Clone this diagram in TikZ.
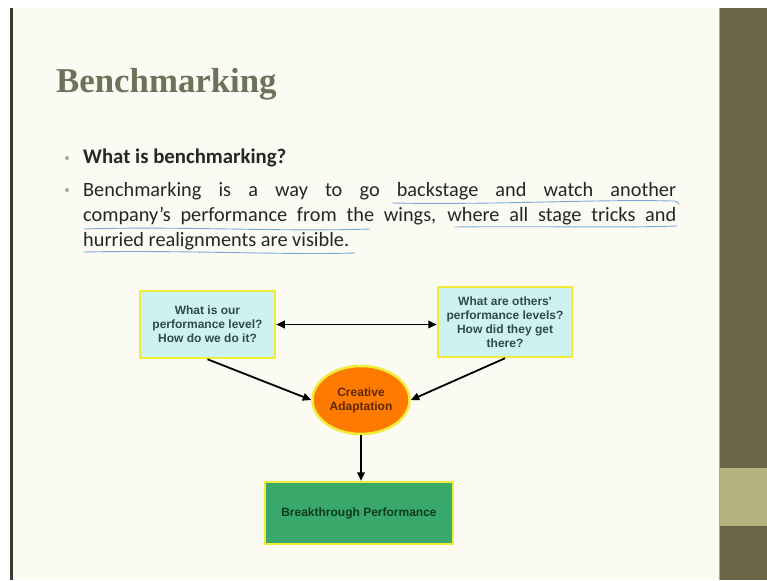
\documentclass[tikz,border=0pt]{standalone}
\usepackage{fontspec}
\setmainfont{Carlito}
\newfontfamily\titlefont{Liberation Serif}
\newfontfamily\diagfont{Liberation Sans}
\usetikzlibrary{shapes.geometric,arrows.meta}
\definecolor{slidebg}{HTML}{FBFBF4}
\definecolor{edgeline}{HTML}{3A3A32}
\definecolor{panel}{HTML}{6B6447}
\definecolor{band}{HTML}{B4B47E}
\definecolor{titlecol}{HTML}{6B735A}
\definecolor{bodytext}{HTML}{262626}
\definecolor{bulletcol}{HTML}{A8A8A0}
\definecolor{inkblue}{HTML}{7FA6D6}
\definecolor{boxfill}{HTML}{CDF2EF}
\definecolor{boxborder}{HTML}{F0EC3A}
\definecolor{boxtext}{HTML}{2F4A4A}
\definecolor{orangefill}{HTML}{FF7A00}
\definecolor{orangetext}{HTML}{5C2A00}
\definecolor{greenfill}{HTML}{38A96B}
\definecolor{greentext}{HTML}{0E3B1E}
\tikzset{
  bodyline/.style={anchor=base west, inner sep=0pt, text=bodytext, font=\fontsize{20.3}{25}\selectfont},
  diagbox/.style={draw=boxborder, line width=2.5pt, align=center, inner sep=0pt,
    font=\diagfont\bfseries\fontsize{12}{14}\selectfont},
  qbox/.style={diagbox, fill=boxfill, text=boxtext},
  tip/.style={Triangle[length=8.5pt,width=7.5pt]},
  conn/.style={line width=1.8pt, draw=black, -{Triangle[length=8.5pt,width=7.5pt]}},
  ink/.style={draw=inkblue, line width=0.9pt, line cap=round}
}
\begin{document}
\begin{tikzpicture}[x=1pt,y=-1pt]
\useasboundingbox (0,0) rectangle (767,580);
\fill[white] (0,0) rectangle (767,580);
\fill[slidebg] (11,8) rectangle (719,580);
\fill[edgeline] (10,8) rectangle (12.5,580);
\fill[panel] (719,8) rectangle (767,580);
\fill[band] (719,468) rectangle (767,526);
\draw[gray!70, line width=1pt] (719.5,8) -- (719.5,580);

% title
\node[anchor=base west, inner sep=0pt, text=titlecol,
  font=\titlefont\bfseries\fontsize{34.8}{40}\selectfont] (title) at (56,93) {Benchmarking};

% bullets
\fill[bulletcol] (67,158) circle (2);
\fill[bulletcol] (67,190) circle (2);
\node[bodyline, font=\bfseries\fontsize{20.8}{25}\selectfont] (q) at (83,164) {What is benchmarking?};
\node[bodyline] (l1) at (83,196) {\makebox[593pt][s]{Benchmarking is a way to go backstage and watch another}};
\node[bodyline] (l2) at (83,221) {\makebox[593pt][s]{company’s performance from the wings, where all stage tricks and}};
\node[bodyline] (l3) at (83,246) {hurried realignments are visible.};

% hand-drawn underlines
\draw[ink] (392,203) .. controls (500,205) and (600,199) .. (672,201) .. controls (676,201) .. (679,204);
\draw[ink] (84,229) .. controls (180,226) and (280,232) .. (370,229);
\draw[ink] (455,227) .. controls (540,226) and (620,228) .. (677,226);
\draw[ink] (84,252) .. controls (180,250) and (280,255) .. (355,253);

% diagram
\node[qbox, minimum width=135pt, minimum height=67pt] (A) at (207.5,324.5)
  {What is our\\performance level?\\How do we do it?};
\node[qbox, minimum width=134pt, minimum height=70pt] (B) at (505,322)
  {What are others'\\performance levels?\\How did they get\\there?};
\node[diagbox, ellipse, fill=orangefill, text=orangetext, minimum width=97pt, minimum height=68pt] (E) at (361,400)
  {Creative\\Adaptation};
\node[diagbox, fill=greenfill, text=greentext, minimum width=188pt, minimum height=62pt] (C) at (359,513)
  {Breakthrough Performance};

\draw[conn, {Triangle[length=8.5pt,width=7.5pt]}-{Triangle[length=8.5pt,width=7.5pt]}] (A.east) -- (A.east -| B.west);
\draw[conn] (A.south) -- (E.west);
\draw[conn] (B.south) -- (E.east);
\draw[conn] (E.south) -- (E.south |- C.north);
\end{tikzpicture}
\end{document}
